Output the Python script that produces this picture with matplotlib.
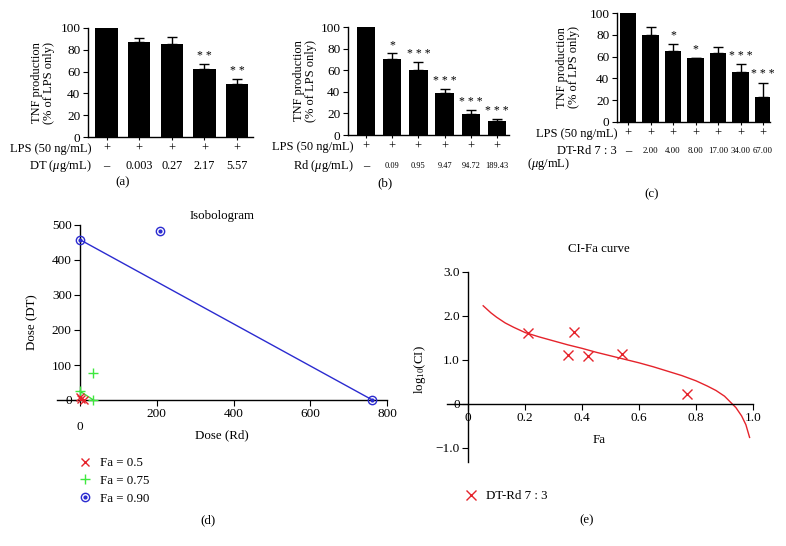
import matplotlib
matplotlib.use("Agg")
import matplotlib.pyplot as plt
import matplotlib.transforms as mtransforms
from matplotlib.lines import Line2D
from matplotlib.legend_handler import HandlerTuple
import numpy as np

plt.rcParams['font.family'] = ['Liberation Serif', 'DejaVu Serif']
plt.rcParams['mathtext.fontset'] = 'custom'
plt.rcParams['mathtext.rm'] = 'Liberation Serif'
plt.rcParams['mathtext.it'] = 'Liberation Serif:italic'
plt.rcParams['axes.linewidth'] = 1.0

# ---------------- data ----------------
a_doses = ['–', '0.003', '0.27', '2.17', '5.57']
a_vals = [100, 86.8, 85.5, 62.2, 48.6]
a_err = [0, 4.0, 6.2, 4.8, 4.6]
a_stars = ['', '', '', '* *', '* *']

b_doses = ['–', '0.09', '0.95', '9.47', '94.72', '189.43']
b_vals = [100, 70.3, 59.8, 38.7, 19.2, 13.0]
b_err = [0, 5.6, 8.0, 4.0, 3.7, 1.9]
b_stars = ['', '*', '* * *', '* * *', '* * *', '* * *']

c_doses = ['–', '2.00', '4.00', '8.00', '17.00', '34.00', '67.00']
c_vals = [100, 79.5, 65.1, 58.5, 63.3, 45.9, 22.9]
c_err = [0, 7.7, 6.8, 0.6, 5.5, 7.0, 13.2]
c_stars = ['', '', '*', '*', '', '* * *', '* * *']

yticks_bar = [0, 20, 40, 60, 80, 100]

# isobologram
fa50_iso_rd = [0, 10]
fa50_iso_dt = [8, 0]
fa50_combo_rd = [2]
fa50_combo_dt = [3]
fa75_iso_rd = [0, 35]
fa75_iso_dt = [25, 0]
fa75_combo_rd = [33]
fa75_combo_dt = [78]
fa90_iso_rd = [0, 762]
fa90_iso_dt = [458, 0]
fa90_combo_rd = [208]
fa90_combo_dt = [484]

# CI-Fa
ci_fa = [0.21, 0.35, 0.37, 0.42, 0.54, 0.77]
ci_log = [1.60, 1.11, 1.63, 1.08, 1.12, 0.23]
curve_fa = [0.053, 0.08, 0.10, 0.13, 0.16, 0.20, 0.25, 0.30, 0.35, 0.40, 0.45, 0.50,
            0.55, 0.60, 0.65, 0.70, 0.75, 0.80, 0.84, 0.87, 0.90, 0.92, 0.94,
            0.96, 0.975, 0.988]
curve_log = [2.23, 2.07, 1.97, 1.84, 1.74, 1.62, 1.52, 1.43, 1.34, 1.26, 1.17, 1.09,
             1.01, 0.93, 0.84, 0.74, 0.64, 0.52, 0.40, 0.30, 0.17, 0.04, -0.09,
             -0.28, -0.48, -0.77]

W, H = 786, 546
fig = plt.figure(figsize=(W / 100, H / 100), dpi=100)
TICK_FS = 9.5
TXT_FS = 9.3


def px_axes(l, t, r, b):
    return fig.add_axes([l / W, 1 - b / H, (r - l) / W, (b - t) / H])


def fy(y):
    return 1 - y / H


def bar_panel(rect, vals, errs, stars, doses, xlim, width, label_right,
              row1_y, row2_y, dose_fs, ylab_x, dose_name, caption, cap_xy,
              extra_line=None):
    ax = px_axes(*rect)
    x = np.arange(len(vals))
    lower = np.zeros(len(vals))
    ax.bar(x, vals, width=width, color='black', zorder=2)
    ax.errorbar(x[1:], np.array(vals[1:]), yerr=[lower[1:], np.array(errs[1:])],
                fmt='none', ecolor='black', elinewidth=1.0, capsize=3.5, capthick=1.0,
                zorder=1)
    for xi, v, e, s in zip(x, vals, errs, stars):
        if s:
            ax.text(xi, v + e + 2, s, ha='center', va='bottom', fontsize=8.5)
    ax.set_xlim(*xlim)
    ax.set_ylim(0, 100)
    ax.set_yticks(yticks_bar)
    ax.set_xticks(x)
    ax.set_xticklabels([])
    ax.tick_params(axis='y', direction='out', length=3.5, labelsize=TICK_FS, pad=2)
    ax.tick_params(axis='x', direction='out', length=2.5)
    for sp in ['top', 'right']:
        ax.spines[sp].set_visible(False)
    tr = mtransforms.blended_transform_factory(ax.transData, fig.transFigure)
    for xi, d in zip(x, doses):
        ax.text(xi, fy(row1_y), '+', transform=tr, ha='center', va='center', fontsize=9)
        ax.text(xi, fy(row2_y), d, transform=tr, ha='center', va='center',
                fontsize=(9 if d == '–' else dose_fs))
    fig.text(label_right / W, fy(row1_y), 'LPS (50 ng/mL)', ha='right', va='center', fontsize=9)
    fig.text(label_right / W, fy(row2_y), dose_name, ha='right', va='center', fontsize=9)
    if extra_line is not None:
        fig.text(extra_line[0] / W, fy(extra_line[1]), extra_line[2], ha='left',
                 va='center', fontsize=9)
    fig.text(ylab_x / W, fy((rect[1] + rect[3]) / 2), 'TNF production\n(% of LPS only)',
             rotation=90, ha='center', va='center', fontsize=9, linespacing=1.1)
    fig.text(cap_xy[0] / W, fy(cap_xy[1]), caption, ha='center', va='center', fontsize=TXT_FS)
    return ax


bar_panel((88, 28, 253, 137), a_vals, a_err, a_stars, a_doses, (-0.57, 4.49), 0.69,
          92, 149, 166, 8.8, 43, r'DT ($\mu$g/mL)', '(a)', (123, 182))
bar_panel((348, 27, 509, 135), b_vals, b_err, b_stars, b_doses, (-0.68, 5.45), 0.7,
          354, 147, 166, 6, 305, r'Rd ($\mu$g/mL)', '(b)', (385, 183))
bar_panel((617, 13, 770, 122), c_vals, c_err, c_stars, c_doses, (-0.49, 6.31), 0.75,
          617, 134, 151, 6.3, 568, 'DT-Rd 7 : 3', '(c)', (652, 194),
          extra_line=(527, 164, r'($\mu$g/mL)'))

# ---------------- isobologram ----------------
red = '#e5232b'
green = '#3ee83e'
blue = '#2b2bd0'

axd = px_axes(57, 225, 387, 400)
axd.plot(fa90_iso_rd, fa90_iso_dt, color=blue, lw=1.0, zorder=2)
axd.plot(fa75_iso_rd, fa75_iso_dt, color=green, lw=1.0, zorder=2)
axd.plot(fa50_iso_rd, fa50_iso_dt, color=red, lw=1.0, zorder=2)
axd.plot(fa90_iso_rd + fa90_combo_rd, fa90_iso_dt + fa90_combo_dt, 'o', ms=6, mfc='none',
         mec=blue, mew=1.0, clip_on=False, zorder=3)
axd.plot(fa90_iso_rd + fa90_combo_rd, fa90_iso_dt + fa90_combo_dt, 'o', ms=2, mfc=blue,
         mec=blue, clip_on=False, zorder=3)
axd.plot(fa75_iso_rd + fa75_combo_rd, fa75_iso_dt + fa75_combo_dt, '+', ms=7, color=green,
         mew=1.0, clip_on=False, zorder=3)
axd.plot(fa50_iso_rd + fa50_combo_rd, fa50_iso_dt + fa50_combo_dt, 'x', ms=6, color=red,
         mew=1.0, clip_on=False, zorder=4)
axd.set_xlim(-60, 800)
axd.set_ylim(0, 500)
axd.spines['left'].set_position(('data', 0))
axd.spines['top'].set_visible(False)
axd.spines['right'].set_visible(False)
axd.set_xticks([0, 200, 400, 600, 800])
axd.set_xticklabels(['', '200', '400', '600', '800'])
axd.set_yticks([0, 100, 200, 300, 400, 500])
axd.tick_params(direction='out', length=4, labelsize=TICK_FS, pad=2)
trd = mtransforms.blended_transform_factory(axd.transData, fig.transFigure)
axd.text(0, fy(427), '0', transform=trd, ha='center', va='center', fontsize=TICK_FS)
fig.text(222 / W, fy(216), 'Isobologram', ha='center', va='center', fontsize=TXT_FS)
fig.text(222 / W, fy(435), 'Dose (Rd)', ha='center', va='center', fontsize=TXT_FS)
fig.text(32 / W, fy(322), 'Dose (DT)', ha='center', va='center', fontsize=TXT_FS, rotation=90)

h50 = Line2D([], [], ls='none', marker='x', ms=6, color=red, mew=1.0)
h75 = Line2D([], [], ls='none', marker='+', ms=7, color=green, mew=1.0)
h90a = Line2D([], [], ls='none', marker='o', ms=6, mfc='none', mec=blue, mew=1.0)
h90b = Line2D([], [], ls='none', marker='o', ms=2, mfc=blue, mec=blue)
fig.legend([h50, h75, (h90a, h90b)], ['Fa = 0.5', 'Fa = 0.75', 'Fa = 0.90'],
           handler_map={tuple: HandlerTuple(ndivide=1, pad=0)},
           loc='upper left', bbox_to_anchor=(79 / W, fy(457)), frameon=False,
           fontsize=TXT_FS, handlelength=1.0, handletextpad=0.6, labelspacing=0.45,
           borderaxespad=0, borderpad=0)
fig.text(208 / W, fy(520), '(d)', ha='center', va='center', fontsize=TXT_FS)

# ---------------- CI-Fa curve ----------------
axe = px_axes(447, 272, 753, 462)
axe.plot(curve_fa, curve_log, color=red, lw=1.0)
axe.plot(ci_fa, ci_log, 'x', ms=7, color=red, mew=1.0, ls='none')
axe.set_xlim(-0.074, 1.0)
axe.set_ylim(-1.33, 3.0)
axe.spines['left'].set_position(('data', 0))
axe.spines['bottom'].set_position(('data', 0))
axe.spines['top'].set_visible(False)
axe.spines['right'].set_visible(False)
axe.set_xticks([0, 0.2, 0.4, 0.6, 0.8, 1.0])
axe.set_xticklabels(['0', '0.2', '0.4', '0.6', '0.8', '1.0'])
axe.set_yticks([-1.0, 0, 1.0, 2.0, 3.0])
axe.set_yticklabels(['−1.0', '0', '1.0', '2.0', '3.0'])
axe.tick_params(direction='out', length=4, labelsize=TICK_FS, pad=2)
fig.text(599 / W, fy(249), 'CI-Fa curve', ha='center', va='center', fontsize=TXT_FS)
fig.text(599 / W, fy(440), 'Fa', ha='center', va='center', fontsize=TXT_FS)
fig.text(420 / W, fy(370), r'log$_{10}$(CI)', ha='center', va='center', fontsize=TXT_FS,
         rotation=90)
he = Line2D([], [], ls='none', marker='x', ms=7, color=red, mew=1.0)
fig.legend([he], ['DT-Rd 7 : 3'], loc='upper left', bbox_to_anchor=(465 / W, fy(490)),
           frameon=False, fontsize=TXT_FS, handlelength=1.0, handletextpad=0.6,
           borderaxespad=0, borderpad=0)
fig.text(587 / W, fy(520), '(e)', ha='center', va='center', fontsize=TXT_FS)

fig.savefig('out.png', dpi=100)
